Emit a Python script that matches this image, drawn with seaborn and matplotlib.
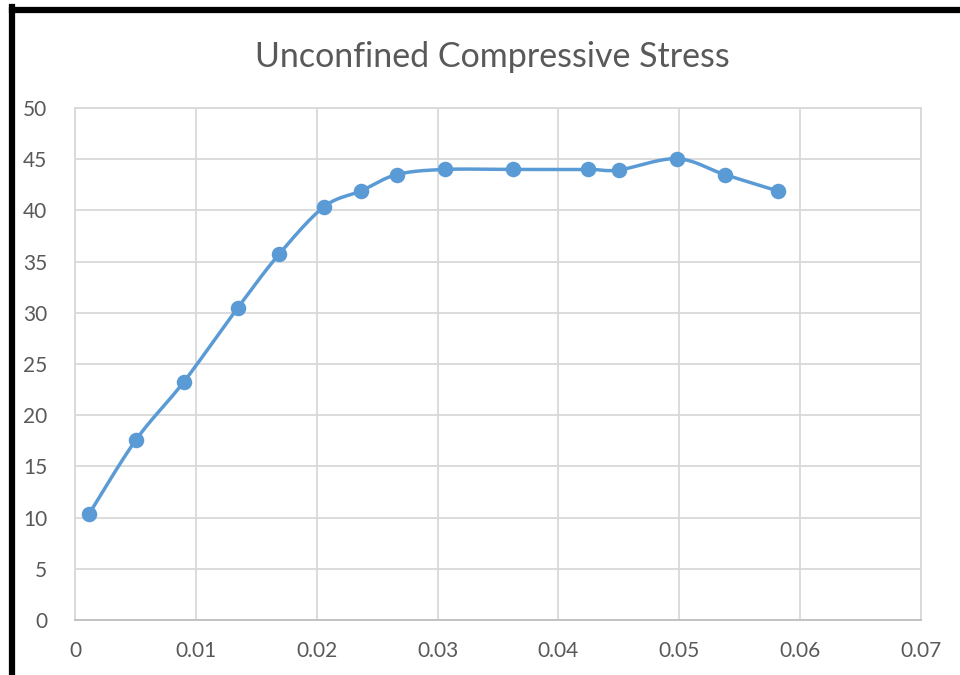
import numpy as np
import pandas as pd
import matplotlib
matplotlib.use("Agg")
import matplotlib.pyplot as plt
import seaborn as sns
from matplotlib.lines import Line2D

strain = [0.00116, 0.00505, 0.0090, 0.01348, 0.01687, 0.0206, 0.02366, 0.02663,
          0.0306, 0.03623, 0.04243, 0.0450, 0.0498, 0.05376, 0.05815]
stress = [10.35, 17.6, 23.25, 30.5, 35.7, 40.35, 41.9, 43.5,
          44.0, 44.0, 44.0, 43.95, 45.05, 43.5, 41.9]
x_ticks = [0, 0.01, 0.02, 0.03, 0.04, 0.05, 0.06, 0.07]
x_labels = ["0", "0.01", "0.02", "0.03", "0.04", "0.05", "0.06", "0.07"]
y_ticks = [0, 5, 10, 15, 20, 25, 30, 35, 40, 45, 50]
title = "Unconfined Compressive Stress"

sns.set_theme(style="white")
plt.rcParams['font.family'] = ['Lato', 'DejaVu Sans']

BLUE = "#5B9BD5"
GRAY = "#595959"
GRID = "#D9D9D9"

fig = plt.figure(figsize=(9.6, 6.75), dpi=100)
ax = fig.add_axes([75/960, 55/675, (921-75)/960, (620-108)/675])

# Excel-like smoothed curve (Bezier through points), computed in screen-scaled units
xs = np.array(strain) / 0.07 * 846
ys = np.array(stress) / 50 * 512
P = np.column_stack([xs, ys])
n = len(P)
curve = []
t = np.linspace(0, 1, 30)
for i in range(n - 1):
    p0 = P[i]
    p3 = P[i + 1]
    prev = P[i - 1] if i > 0 else P[i]
    nxt = P[i + 2] if i + 2 < n else P[i + 1]
    c1 = p0 + (p3 - prev) / 6
    c2 = p3 - (nxt - p0) / 6
    seg = ((1 - t)[:, None] ** 3 * p0 + 3 * ((1 - t) ** 2 * t)[:, None] * c1
           + 3 * ((1 - t) * t ** 2)[:, None] * c2 + (t ** 3)[:, None] * p3)
    curve.append(seg if i == 0 else seg[1:])
curve = np.vstack(curve)
df_curve = pd.DataFrame({"x": curve[:, 0] / 846 * 0.07, "y": curve[:, 1] / 512 * 50})
df_pts = pd.DataFrame({"x": strain, "y": stress})

sns.lineplot(data=df_curve, x="x", y="y", sort=False, color=BLUE, lw=2.5, ax=ax, zorder=3)
sns.scatterplot(data=df_pts, x="x", y="y", color=BLUE, s=125, edgecolor=BLUE, linewidth=0, ax=ax, zorder=4)

ax.set_xlim(0, 0.07)
ax.set_ylim(0, 50)
ax.set_xticks(x_ticks)
ax.set_xticklabels(x_labels)
ax.set_yticks(y_ticks)
ax.set_xlabel("")
ax.set_ylabel("")
ax.grid(True, color=GRID, lw=1.3)
ax.set_axisbelow(True)
for s in ax.spines.values():
    s.set_color(GRID)
    s.set_linewidth(1.3)
ax.spines['bottom'].set_color("#BFBFBF")
ax.tick_params(axis="both", length=0, labelsize=15, colors=GRAY)
ax.tick_params(axis="y", pad=20)
ax.tick_params(axis="x", pad=15)

fig.text(0.5125, 0.916, title, ha="center", va="center", fontsize=24.5, color=GRAY)

# black frame on top and left
fig.add_artist(Line2D([12/960, 12/960], [0, 1 - 7/675], transform=fig.transFigure, color="black", lw=4.5, solid_capstyle="projecting"))
fig.add_artist(Line2D([12/960, 1], [1 - 10/675, 1 - 10/675], transform=fig.transFigure, color="black", lw=4.5, solid_capstyle="projecting"))

fig.savefig("out.png", dpi=100)
